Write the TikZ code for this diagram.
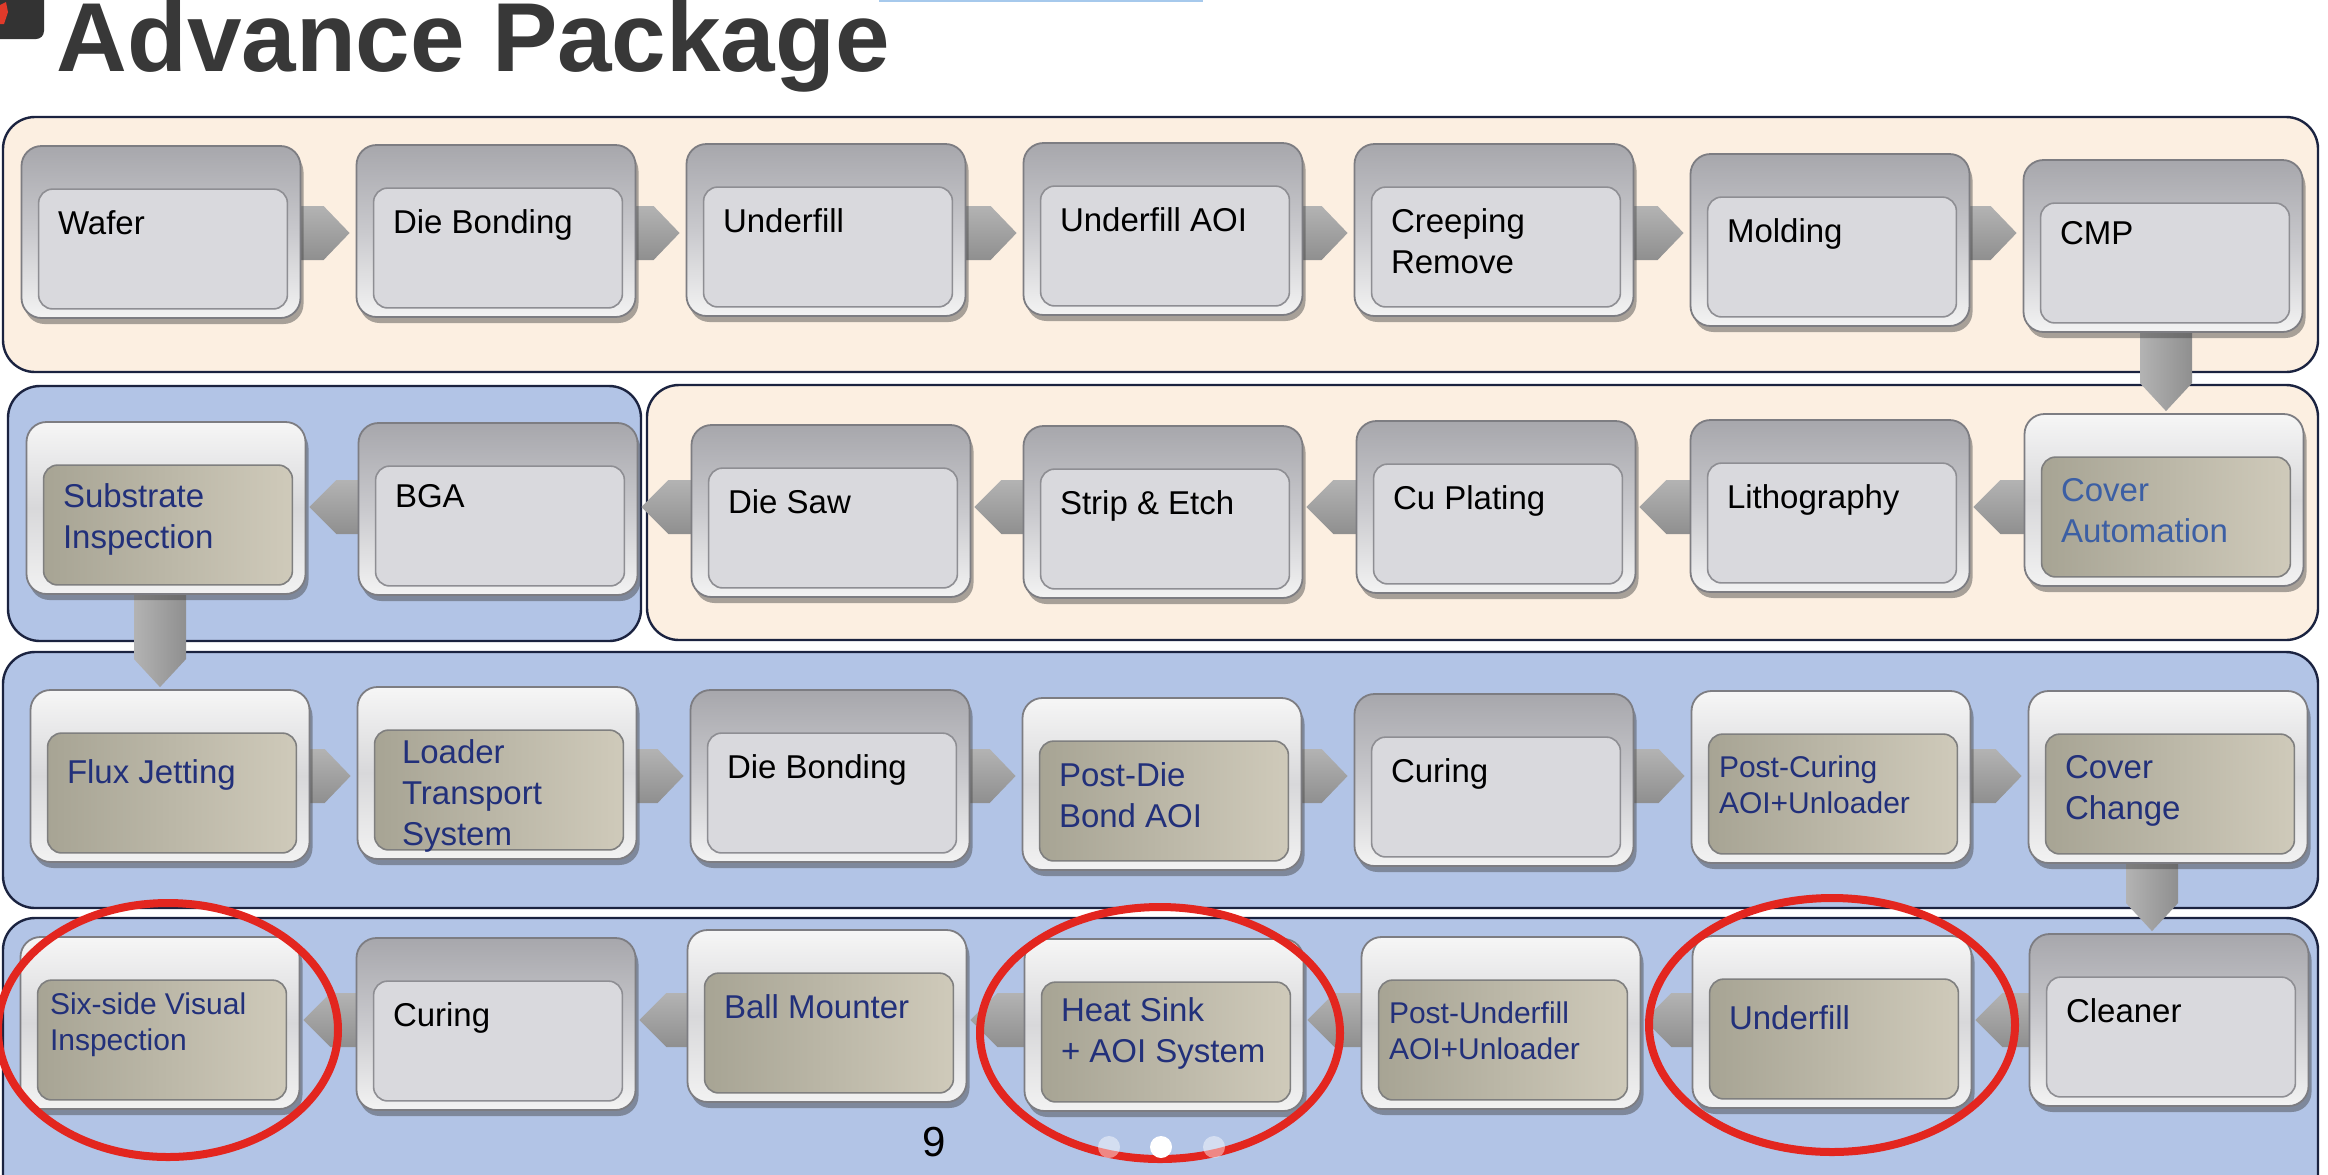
\documentclass[tikz,border=0pt]{standalone}
\usepackage{fontspec}
\setmainfont{Liberation Sans}
\usetikzlibrary{calc,shadows}
\pgfdeclarelayer{panels}
\pgfdeclarelayer{arrows}
\pgfsetlayers{panels,arrows,main}

\definecolor{paneledge}{HTML}{1B2340}
\definecolor{cream}{HTML}{FCEFE1}
\definecolor{bluepanel}{HTML}{B2C4E6}
\definecolor{boxedge}{HTML}{7D7D82}
\definecolor{gtop}{HTML}{A7A7AC}
\definecolor{gmid}{HTML}{C9C9CD}
\definecolor{gbot}{HTML}{F3F3F3}
\definecolor{ktop}{HTML}{F6F6F6}
\definecolor{kmid}{HTML}{D8D8DA}
\definecolor{kbot}{HTML}{F2F2F2}
\definecolor{ginner}{HTML}{D9D9DD}
\definecolor{ginedge}{HTML}{8E8E93}
\definecolor{kleft}{HTML}{A7A494}
\definecolor{kright}{HTML}{CFCABA}
\definecolor{kinedge}{HTML}{7F7F7F}
\definecolor{navy}{HTML}{22307A}
\definecolor{coverblue}{HTML}{3C5FA4}
\definecolor{arrtop}{HTML}{B3B3B3}
\definecolor{arrbot}{HTML}{8F8F8F}
\definecolor{titlegray}{HTML}{383838}
\definecolor{ringred}{HTML}{E3261F}
\definecolor{icondark}{HTML}{333333}
\definecolor{iconred}{HTML}{E03A2A}
\definecolor{toplinecol}{HTML}{A6C9EC}

\newcommand\bxfont{\fontsize{16.5}{20.5}\selectfont}
\newcommand\smallbxfont{\fontsize{15}{18}\selectfont}

\tikzset{
  panel/.style={draw=paneledge, line width=1.2pt, rounded corners=16pt},
  outerg/.style={rectangle, rounded corners=10pt, minimum width=139.5pt,
    minimum height=86pt, inner sep=0pt, draw=boxedge, line width=0.9pt,
    top color=gtop, bottom color=gbot, middle color=gmid,
    drop shadow={shadow xshift=1.5pt, shadow yshift=-3pt, opacity=.45, fill=black!75}},
  outerk/.style={outerg, top color=ktop, bottom color=kbot, middle color=kmid},
  innerg/.style={rounded corners=7pt, fill=ginner, draw=ginedge, line width=0.8pt},
  innerk/.style={rounded corners=7pt, left color=kleft, right color=kright,
    draw=kinedge, line width=0.8pt},
  lblg/.style={anchor=north west, inner sep=0pt, align=left, font=\bxfont, text=black},
  lblk/.style={lblg, text=navy},
  small/.style={font=\smallbxfont},
  harr/.style={top color=arrtop, bottom color=arrbot, draw=none},
  varr/.style={left color=arrtop, right color=arrbot, draw=none},
  redring/.style={draw=ringred, line width=4pt},
}

% #1 name, #2 x, #3 y, #4 kind (g/k), #5 label options, #6 text
\newcommand\pbox[6]{%
  \node[outer#4] (#1) at (#2,#3) {};
  \path[inner#4] ($(#1.north west)+(9pt,-22pt)$) rectangle ($(#1.south east)+(-7pt,5pt)$);
  \node[lbl#4, #5] (#1-t) at ($(#1.north west)+(18.5pt,-32.5pt)$) {#6};
}
% right-pointing connector from #1 to #2 on row #3
\newcommand\rarr[3]{%
  \path[harr] ($(#1.center |- #3)+(0pt,13.5pt)$) -- ($(#2.west |- #3)+(-16pt,13.5pt)$)
    -- ($(#2.west |- #3)+(-3pt,0pt)$) -- ($(#2.west |- #3)+(-16pt,-13.5pt)$)
    -- ($(#1.center |- #3)+(0pt,-13.5pt)$) -- cycle;}
% left-pointing connector from #1 to #2 on row #3
\newcommand\larr[3]{%
  \path[harr] ($(#1.center |- #3)+(0pt,13.5pt)$) -- ($(#2.east |- #3)+(15pt,13.5pt)$)
    -- ($(#2.east |- #3)+(1.5pt,0pt)$) -- ($(#2.east |- #3)+(15pt,-13.5pt)$)
    -- ($(#1.center |- #3)+(0pt,-13.5pt)$) -- cycle;}
% downward connector from #1 to #2, horizontal offset #3
\newcommand\darr[3]{%
  \path[varr] ($(#1.center)+(#3-13pt,0pt)$) -- ($(#1.center |- #2.north)+(#3-13pt,15pt)$)
    -- ($(#1.center |- #2.north)+(#3,1pt)$) -- ($(#1.center |- #2.north)+(#3+13pt,15pt)$)
    -- ($(#1.center)+(#3+13pt,0pt)$) -- cycle;}

\begin{document}
\begin{tikzpicture}[x=0.5pt,y=-0.5pt]
\useasboundingbox (0,0) rectangle (2328,1174);
\clip (0,0) rectangle (2328,1174);

% panels
\begin{pgfonlayer}{panels}
  \fill[white] (0,0) rectangle (2328,1174);
  \draw[panel, fill=cream] (3,117) rectangle (2318,372);
  \draw[panel, fill=bluepanel] (8,386) rectangle (641,641);
  \draw[panel, fill=cream] (647,385) rectangle (2318,640);
  \draw[panel, fill=bluepanel] (3,652) rectangle (2318,908);
  \draw[panel, fill=bluepanel] (3,918) rectangle (2318,1230);
\end{pgfonlayer}

% header
\fill[icondark, rounded corners=4pt] (-20,-20) rectangle (44,39);
\fill[iconred] (0,5) -- (6,2) -- (8,12) -- (4,24) -- (0,24) -- cycle;
\draw[toplinecol, line width=1pt] (879,1) -- (1203,1);
\node[anchor=base west, inner sep=0pt, text=titlegray,
  font=\fontsize{49}{49}\selectfont\bfseries] (title) at (56,71) {Advance Package};

\coordinate (r1) at (0,233);
\coordinate (r2) at (0,507);
\coordinate (r3) at (0,776);
\coordinate (r4) at (0,1020);

% row 1
\pbox{wafer}{161}{232}{g}{}{Wafer}
\pbox{db1}{496}{231}{g}{}{Die Bonding}
\pbox{uf1}{826}{230}{g}{}{Underfill}
\pbox{ufaoi}{1163}{229}{g}{}{Underfill AOI}
\pbox{creep}{1494}{230}{g}{}{Creeping\\Remove}
\pbox{mold}{1830}{240}{g}{}{Molding}
\pbox{cmp}{2163}{246}{g}{yshift=1.5pt}{CMP}
% row 2
\pbox{sub}{166}{508}{k}{yshift=1.5pt}{Substrate\\Inspection}
\pbox{bga}{498}{509}{g}{yshift=1.5pt}{BGA}
\pbox{saw}{831}{511}{g}{}{Die Saw}
\pbox{strip}{1163}{512}{g}{}{Strip \& Etch}
\pbox{cu}{1496}{507}{g}{}{Cu Plating}
\pbox{litho}{1830}{506}{g}{}{Lithography}
\pbox{cover}{2164}{500}{k}{text=coverblue}{Cover\\Automation}
% row 3
\pbox{flux}{170}{776}{k}{yshift=-2.5pt}{Flux Jetting}
\pbox{loader}{497}{773}{k}{xshift=4pt,yshift=6pt}{Loader\\Transport\\System}
\pbox{db2}{830}{776}{g}{}{Die Bonding}
\pbox{pdb}{1162}{784}{k}{}{Post-Die\\Bond AOI}
\pbox{cur1}{1494}{780}{g}{}{Curing}
\pbox{pcur}{1831}{777}{k}{xshift=-4.5pt,small}{Post-Curing\\AOI+Unloader}
\pbox{cchg}{2168}{777}{k}{}{Cover\\Change}
% row 4
\pbox{six}{160}{1023}{k}{xshift=-3.5pt,yshift=4.5pt,small}{Six-side Visual\\Inspection}
\pbox{cur2}{496}{1024}{g}{}{Curing}
\pbox{ball}{827}{1016}{k}{}{Ball Mounter}
\pbox{heat}{1164}{1025}{k}{yshift=3pt}{Heat Sink\\+ AOI System}
\pbox{puf}{1501}{1023}{k}{xshift=-4.5pt,small}{Post-Underfill\\AOI+Unloader}
\pbox{uf2}{1832}{1022}{k}{yshift=-2.5pt}{Underfill}
\pbox{clean}{2169}{1020}{g}{}{Cleaner}

% connectors
\begin{pgfonlayer}{arrows}
  \rarr{wafer}{db1}{r1}
  \rarr{db1}{uf1}{r1}
  \rarr{uf1}{ufaoi}{r1}
  \rarr{ufaoi}{creep}{r1}
  \rarr{creep}{mold}{r1}
  \rarr{mold}{cmp}{r1}
  \darr{cmp}{cover}{1.5pt}
  \larr{cover}{litho}{r2}
  \larr{litho}{cu}{r2}
  \larr{cu}{strip}{r2}
  \larr{strip}{saw}{r2}
  \larr{saw}{bga}{r2}
  \larr{bga}{sub}{r2}
  \darr{sub}{flux}{-3pt}
  \rarr{flux}{loader}{r3}
  \rarr{loader}{db2}{r3}
  \rarr{db2}{pdb}{r3}
  \rarr{pdb}{cur1}{r3}
  \rarr{cur1}{pcur}{r3}
  \rarr{pcur}{cchg}{r3}
  \darr{cchg}{clean}{-8pt}
  \larr{clean}{uf2}{r4}
  \larr{uf2}{puf}{r4}
  \larr{puf}{heat}{r4}
  \larr{heat}{ball}{r4}
  \larr{ball}{cur2}{r4}
  \larr{cur2}{six}{r4}
\end{pgfonlayer}

% red rings
\draw[redring] (168,1030) ellipse [x radius=85pt, y radius=63.5pt];
\draw[redring] (1160,1033) ellipse [x radius=90pt, y radius=63pt];
\draw[redring] (1832,1025) ellipse [x radius=91.5pt, y radius=63.5pt];

% footer
\node[inner sep=0pt, font=\fontsize{21}{21}\selectfont] (pnum) at (934,1142) {9};
\fill[white, opacity=.45] (1109,1147) circle [radius=5.5pt];
\fill[white] (1161,1147) circle [radius=5.5pt];
\fill[white, opacity=.45] (1214,1147) circle [radius=5.5pt];
\end{tikzpicture}
\end{document}
